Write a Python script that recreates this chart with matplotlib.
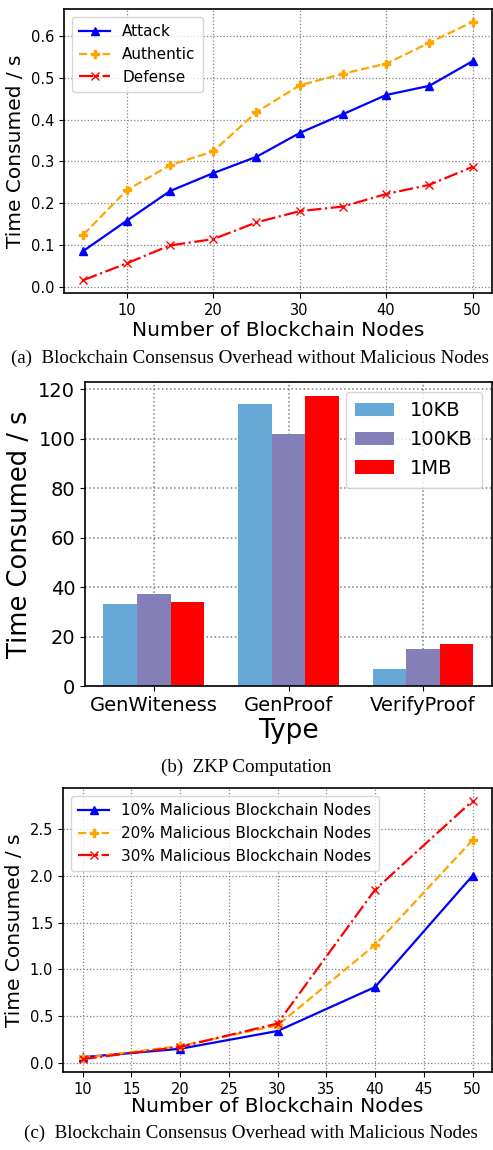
import matplotlib.pyplot as plt
import numpy as np

# (a) consensus overhead without malicious nodes
nodes_a = [5, 10, 15, 20, 25, 30, 35, 40, 45, 50]
attack = [0.086, 0.158, 0.229, 0.272, 0.311, 0.368, 0.413, 0.459, 0.481, 0.540]
authentic = [0.125, 0.231, 0.291, 0.324, 0.418, 0.482, 0.510, 0.534, 0.584, 0.634]
defense = [0.016, 0.056, 0.099, 0.114, 0.154, 0.181, 0.192, 0.222, 0.244, 0.287]

# (b) ZKP computation
types = ["GenWiteness", "GenProof", "VerifyProof"]
sizes = ["10KB", "100KB", "1MB"]
t_10kb = [33, 114, 7]
t_100kb = [37, 102, 15]
t_1mb = [34, 117, 17]

# (c) consensus overhead with malicious nodes
nodes_c = [10, 20, 30, 40, 50]
mal_10 = [0.06, 0.15, 0.34, 0.81, 2.00]
mal_20 = [0.05, 0.18, 0.40, 1.26, 2.38]
mal_30 = [0.04, 0.17, 0.42, 1.85, 2.80]

W, H = 493, 1150
fig = plt.figure(figsize=(W / 100, H / 100), dpi=100)


def box(left, top, right, bottom):
    return [left / W, 1 - bottom / H, (right - left) / W, (bottom - top) / H]


def style(ax):
    ax.grid(True, linestyle=':', color='gray', linewidth=0.9)
    ax.set_axisbelow(True)
    for s in ax.spines.values():
        s.set_linewidth(1.2)


cap_font = dict(family='Liberation Serif', fontsize=13.7, ha='center', va='center')

# ---- (a)
ax1 = fig.add_axes(box(64, 9, 492, 293))
ax1.plot(nodes_a, attack, color='blue', ls='-', marker='^', ms=5.5, lw=1.6, label='Attack')
ax1.plot(nodes_a, authentic, color='orange', ls='--', marker='P', ms=5.5, lw=1.6, label='Authentic')
ax1.plot(nodes_a, defense, color='red', ls='-.', marker='x', ms=5.5, lw=1.6, label='Defense')
style(ax1)
ax1.set_xticks([10, 20, 30, 40, 50])
ax1.set_yticks(np.arange(0, 0.61, 0.1))
ax1.tick_params(labelsize=10.5)
ax1.set_xlabel('Number of Blockchain Nodes', fontsize=14.5, labelpad=2)
ax1.set_ylabel('Time Consumed / s', fontsize=14.5, labelpad=4)
ax1.legend(loc='upper left', fontsize=11, borderpad=0.5, labelspacing=0.5)
fig.text(0.508, 1 - 358 / H, '(a)  Blockchain Consensus Overhead without Malicious Nodes', **cap_font)

# ---- (b)
ax2 = fig.add_axes(box(85, 382, 492, 686))
x = np.arange(len(types))
bw = 0.25
ax2.bar(x - bw, t_10kb, bw, color='#66a8d6', label=sizes[0])
ax2.bar(x, t_100kb, bw, color='#857fb7', label=sizes[1])
ax2.bar(x + bw, t_1mb, bw, color='#ff0000', label=sizes[2])
style(ax2)
ax2.grid(True, linestyle=':', color='gray', linewidth=1.1)
ax2.set_xticks(x)
ax2.set_xticklabels(types)
ax2.tick_params(labelsize=14)
ax2.set_xlabel('Type', fontsize=19, labelpad=2)
ax2.set_ylabel('Time Consumed / s', fontsize=18.5, labelpad=4)
ax2.legend(loc='upper right', fontsize=14, borderpad=0.5, labelspacing=0.5)
fig.text(0.5, 1 - 767 / H, '(b)  ZKP Computation', **cap_font)

# ---- (c)
ax3 = fig.add_axes(box(63, 788, 492, 1072))
ax3.plot(nodes_c, mal_10, color='blue', ls='-', marker='^', ms=5.5, lw=1.6, label='10% Malicious Blockchain Nodes')
ax3.plot(nodes_c, mal_20, color='orange', ls='--', marker='P', ms=5.5, lw=1.6, label='20% Malicious Blockchain Nodes')
ax3.plot(nodes_c, mal_30, color='red', ls='-.', marker='x', ms=5.5, lw=1.6, label='30% Malicious Blockchain Nodes')
style(ax3)
ax3.set_xticks(np.arange(10, 51, 5))
ax3.set_yticks(np.arange(0, 2.51, 0.5))
ax3.tick_params(labelsize=10.5)
ax3.set_xlabel('Number of Blockchain Nodes', fontsize=14.5, labelpad=0)
ax3.set_ylabel('Time Consumed / s', fontsize=14.5, labelpad=4)
ax3.legend(loc='upper left', fontsize=11, borderpad=0.5, labelspacing=0.5)
fig.text(0.508, 1 - 1133 / H, '(c)  Blockchain Consensus Overhead with Malicious Nodes', **cap_font)

fig.savefig('out.png', dpi=100)
